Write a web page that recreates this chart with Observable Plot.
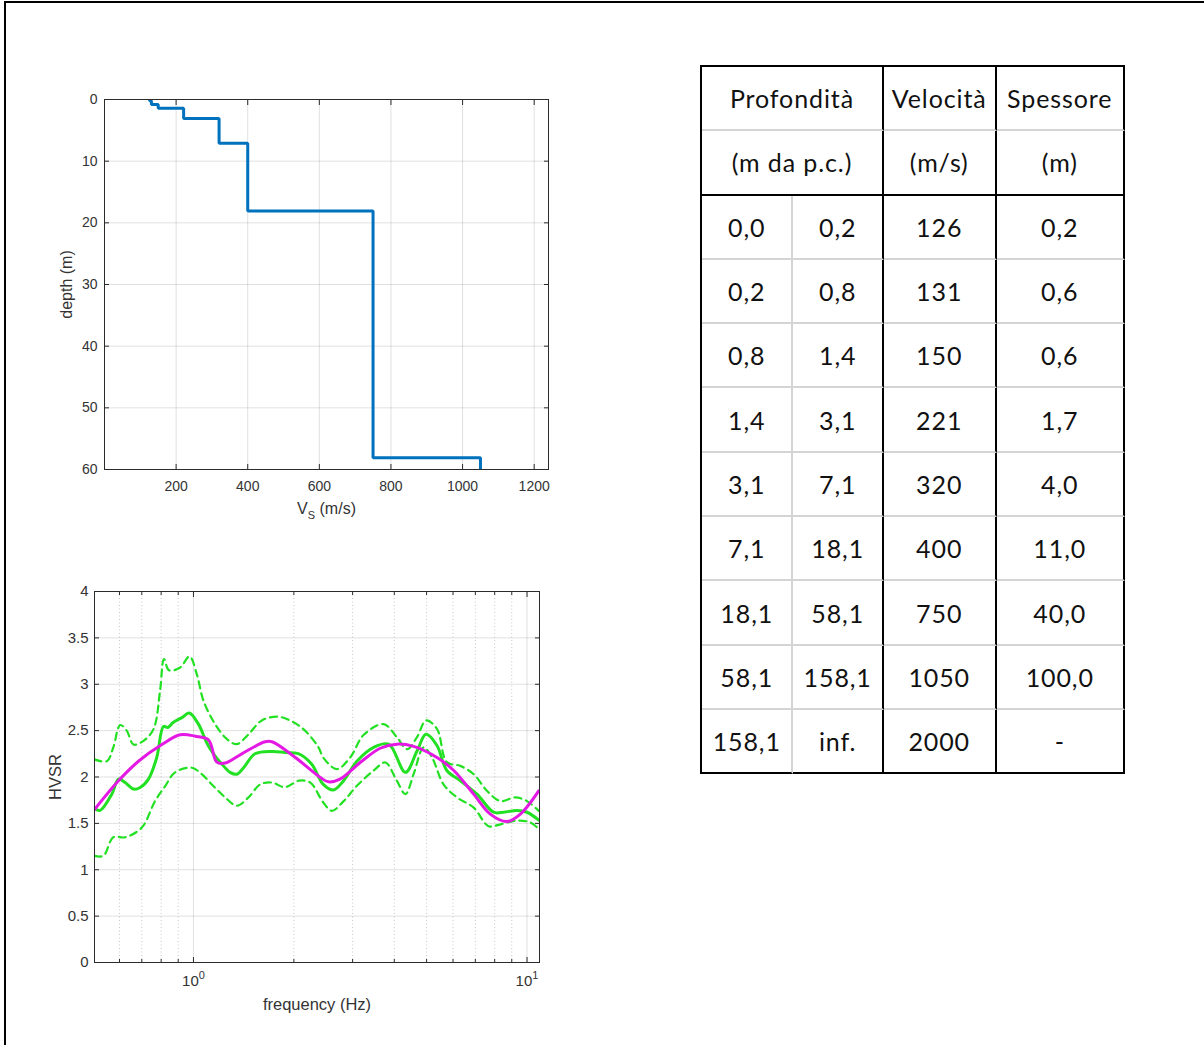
<!DOCTYPE html>
<html>
<head>
<meta charset="utf-8">
<script src="https://cdn.jsdelivr.net/npm/d3@7"></script>
<script src="https://cdn.jsdelivr.net/npm/@observablehq/plot@0.6"></script>
<style>
  html, body { margin: 0; padding: 0; background: #fff; overflow: hidden; }
  #page { position: relative; width: 1204px; height: 1045px; overflow: hidden; background: #fff; }
  #frame { position: absolute; left: 4px; top: 1px; width: 1400px; height: 1200px; border-left: 2px solid #000; border-top: 2px solid #000; }
  .chart { position: absolute; }
  #tbl { position: absolute; left: 700px; top: 65px; border-collapse: separate; border-spacing: 0;
         border-left: 2px solid #000; border-top: 2px solid #000; font-family: Lato, "Open Sans", sans-serif;
         font-size: 25px; color: #111; letter-spacing: 0.9px; }
  #tbl td { height: 64.3px; padding: 0; text-align: center; vertical-align: middle;
            border-right: 2px solid #d4d4d4; border-bottom: 2px solid #d4d4d4; box-sizing: border-box; }
  #tbl td.bR { border-right: 2px solid #000; }
  #tbl tr.bB td { border-bottom: 2px solid #000; }
  #tbl tr:last-child td { border-bottom: 2px solid #000; }
</style>
</head>
<body>
<div id="page"><div id="frame"></div></div>
<script>
// ---------- Vs profile ----------
const layerTop = [0, 0.2, 0.8, 1.4, 3.1, 7.1, 18.1, 58.1];
const layerBottom = [0.2, 0.8, 1.4, 3.1, 7.1, 18.1, 58.1, 158.1];
const layerVs = [126, 131, 150, 221, 320, 400, 750, 1050];
const vsTicks = [200, 400, 600, 800, 1000, 1200];
const depthTicks = [0, 10, 20, 30, 40, 50, 60];

// ---------- HVSR ----------
const magFreq = [0.505, 0.596, 0.684, 0.804, 0.912, 1.012, 1.109, 1.175, 1.245, 1.396, 1.64, 1.72, 2.02, 2.40, 2.54, 2.75, 3.16, 3.63, 4.07, 4.57, 5.37, 6.03, 6.92, 7.76, 8.71, 9.55, 10.84];
const magHvsr = [1.65, 1.96, 2.17, 2.35, 2.455, 2.44, 2.40, 2.16, 2.15, 2.25, 2.38, 2.38, 2.21, 1.995, 1.948, 1.977, 2.156, 2.31, 2.354, 2.33, 2.21, 2.07, 1.815, 1.60, 1.52, 1.60, 1.85];

const meanFreq = [0.505, 0.525, 0.569, 0.596, 0.624, 0.661, 0.692, 0.733, 0.776, 0.813, 0.838, 0.871, 0.923, 0.971, 1.035, 1.096, 1.148, 1.216, 1.288, 1.349, 1.413, 1.53, 1.72, 1.88, 2.07, 2.26, 2.45, 2.63, 2.82, 3.09, 3.47, 3.85, 4.32, 4.68, 4.98, 5.37, 5.75, 6.31, 7.08, 7.94, 8.51, 9.33, 10.0, 10.84];
const meanHvsr = [1.66, 1.64, 1.815, 1.977, 1.94, 1.87, 1.887, 1.977, 2.21, 2.545, 2.534, 2.59, 2.64, 2.69, 2.57, 2.37, 2.25, 2.14, 2.05, 2.03, 2.10, 2.25, 2.275, 2.264, 2.25, 2.14, 1.92, 1.86, 1.96, 2.17, 2.32, 2.354, 2.05, 2.28, 2.46, 2.34, 2.07, 1.96, 1.815, 1.62, 1.62, 1.64, 1.62, 1.535];

const upFreq = [0.505, 0.55, 0.575, 0.603, 0.631, 0.661, 0.708, 0.759, 0.794, 0.816, 0.845, 0.912, 0.973, 1.023, 1.072, 1.161, 1.259, 1.349, 1.462, 1.603, 1.80, 1.995, 2.16, 2.37, 2.45, 2.69, 2.95, 3.24, 3.72, 4.07, 4.37, 4.68, 4.98, 5.37, 5.75, 6.31, 6.92, 7.59, 8.32, 9.23, 10.0, 10.84];
const upHvsr = [2.19, 2.17, 2.32, 2.56, 2.50, 2.35, 2.39, 2.516, 2.93, 3.27, 3.15, 3.18, 3.30, 3.11, 2.82, 2.57, 2.41, 2.354, 2.46, 2.61, 2.65, 2.59, 2.50, 2.32, 2.21, 2.085, 2.21, 2.455, 2.57, 2.43, 2.30, 2.43, 2.61, 2.52, 2.16, 2.12, 2.03, 1.85, 1.74, 1.78, 1.74, 1.635];

const loFreq = [0.505, 0.537, 0.575, 0.624, 0.70, 0.767, 0.822, 0.881, 0.989, 1.059, 1.135, 1.245, 1.349, 1.462, 1.585, 1.72, 1.88, 2.07, 2.24, 2.45, 2.60, 2.82, 3.09, 3.47, 3.76, 4.07, 4.32, 4.57, 4.90, 5.19, 5.62, 6.17, 6.92, 7.67, 8.32, 9.33, 10.23, 10.84];
const loHvsr = [1.15, 1.15, 1.35, 1.35, 1.455, 1.74, 1.90, 2.05, 2.10, 2.03, 1.92, 1.78, 1.69, 1.78, 1.92, 1.94, 1.89, 1.96, 1.94, 1.725, 1.635, 1.74, 1.905, 2.07, 2.156, 1.96, 1.815, 2.03, 2.32, 2.21, 1.92, 1.78, 1.67, 1.47, 1.49, 1.53, 1.51, 1.44];

const hvsrTicks = [0, 0.5, 1, 1.5, 2, 2.5, 3, 3.5, 4];
const freqMajor = [1, 10];
const freqMinor = [0.6, 0.7, 0.8, 0.9, 2, 3, 4, 5, 6, 7, 8, 9];

// ---------- Table ----------
const headRow1 = ["Profondità", "Velocità", "Spessore"];
const headRow2 = ["(m da p.c.)", "(m/s)", "(m)"];
const profFrom = ["0,0", "0,2", "0,8", "1,4", "3,1", "7,1", "18,1", "58,1", "158,1"];
const profTo = ["0,2", "0,8", "1,4", "3,1", "7,1", "18,1", "58,1", "158,1", "inf."];
const velocity = ["126", "131", "150", "221", "320", "400", "750", "1050", "2000"];
const thickness = ["0,2", "0,6", "0,6", "1,7", "4,0", "11,0", "40,0", "100,0", "-"];

const page = document.getElementById("page");
const axisColor = "#2b2b2b";
const textColor = "#333";
const noText = () => "";

// ----- Chart 1: Vs profile -----
const profile = [];
layerVs.forEach((v, i) => { profile.push({v, d: layerTop[i]}); profile.push({v, d: layerBottom[i]}); });

const c1 = Plot.plot({
  width: 530, height: 460,
  marginLeft: 64, marginRight: 22, marginTop: 19, marginBottom: 71,
  style: {fontFamily: "'Liberation Sans', Arial, sans-serif", fontSize: "14px", color: textColor, background: "transparent", overflow: "visible"},
  x: {domain: [0, 1240]},
  y: {domain: [0, 60], reverse: true},
  marks: [
    Plot.gridX(vsTicks, {stroke: "#000", strokeOpacity: 0.12}),
    Plot.gridY(depthTicks, {stroke: "#000", strokeOpacity: 0.12}),
    Plot.line(profile, {x: "v", y: "d", stroke: "#0072BD", strokeWidth: 3, clip: true, strokeLinejoin: "miter"}),
    Plot.frame({stroke: axisColor, strokeWidth: 1}),
    Plot.axisX(vsTicks, {anchor: "bottom", tickSize: -5, text: null, tickFormat: noText, label: null, stroke: axisColor}),
    Plot.axisX(vsTicks, {anchor: "top", tickSize: -5, text: null, tickFormat: noText, label: null, stroke: axisColor}),
    Plot.axisY(depthTicks, {anchor: "left", tickSize: -5, text: null, tickFormat: noText, label: null, stroke: axisColor}),
    Plot.axisY(depthTicks, {anchor: "right", tickSize: -5, text: null, tickFormat: noText, label: null, stroke: axisColor}),
    Plot.axisX(vsTicks, {anchor: "bottom", tickSize: 0, tickPadding: 12, tickFormat: d => String(d), label: "VS (m/s)", labelAnchor: "center", labelOffset: 44, labelArrow: "none"}),
    Plot.axisY(depthTicks, {anchor: "left", tickSize: 0, tickPadding: 7, tickFormat: d => String(d), label: "depth (m)", labelAnchor: "center", labelOffset: 44, labelArrow: "none"})
  ]
});
c1.classList.add("chart");
c1.style.left = "40px"; c1.style.top = "80px";
page.appendChild(c1);

// ----- Chart 2: HVSR -----
const toRows = (fs, hs) => fs.map((f, i) => ({f, h: hs[i]}));
const c2 = Plot.plot({
  width: 540, height: 460,
  marginLeft: 74, marginRight: 21, marginTop: 21, marginBottom: 68,
  style: {fontFamily: "'Liberation Sans', Arial, sans-serif", fontSize: "15px", color: textColor, background: "transparent", overflow: "visible"},
  x: {type: "log", domain: [0.505, 10.9]},
  y: {domain: [0, 4]},
  marks: [
    Plot.gridY(hvsrTicks, {stroke: "#000", strokeOpacity: 0.12}),
    Plot.gridX(freqMajor, {stroke: "#000", strokeOpacity: 0.12}),
    Plot.gridX(freqMinor, {stroke: "#000", strokeOpacity: 0.22, strokeDasharray: "1,2.5"}),
    Plot.line(toRows(upFreq, upHvsr), {x: "f", y: "h", stroke: "#22e022", strokeWidth: 2.2, strokeDasharray: "7,5", curve: "catmull-rom", clip: true}),
    Plot.line(toRows(loFreq, loHvsr), {x: "f", y: "h", stroke: "#22e022", strokeWidth: 2.2, strokeDasharray: "7,5", curve: "catmull-rom", clip: true}),
    Plot.line(toRows(meanFreq, meanHvsr), {x: "f", y: "h", stroke: "#22e022", strokeWidth: 3, curve: "catmull-rom", clip: true}),
    Plot.line(toRows(magFreq, magHvsr), {x: "f", y: "h", stroke: "#e41ae4", strokeWidth: 3, curve: "catmull-rom", clip: true}),
    Plot.frame({stroke: axisColor, strokeWidth: 1}),
    Plot.axisX(freqMajor, {anchor: "bottom", tickSize: -5, text: null, tickFormat: noText, label: null, stroke: axisColor}),
    Plot.axisX(freqMajor, {anchor: "top", tickSize: -5, text: null, tickFormat: noText, label: null, stroke: axisColor}),
    Plot.axisX(freqMinor, {anchor: "bottom", tickSize: -3, text: null, tickFormat: noText, label: null, stroke: axisColor}),
    Plot.axisX(freqMinor, {anchor: "top", tickSize: -3, text: null, tickFormat: noText, label: null, stroke: axisColor}),
    Plot.axisY(hvsrTicks, {anchor: "left", tickSize: -5, text: null, tickFormat: noText, label: null, stroke: axisColor}),
    Plot.axisY(hvsrTicks, {anchor: "right", tickSize: -5, text: null, tickFormat: noText, label: null, stroke: axisColor}),
    Plot.axisX(freqMajor, {anchor: "bottom", tickSize: 0, tickPadding: 13, tickFormat: d => "10^" + Math.round(Math.log10(d)), label: "frequency (Hz)", labelAnchor: "center", labelOffset: 47, labelArrow: "none"}),
    Plot.axisY(hvsrTicks, {anchor: "left", tickSize: 0, tickPadding: 6, tickFormat: d => String(d), label: "HVSR", labelAnchor: "center", labelOffset: 45, labelArrow: "none"})
  ]
});
c2.classList.add("chart");
c2.style.left = "20px"; c2.style.top = "570px";
page.appendChild(c2);

// ----- text fix-ups (subscripts/superscripts, label sizes) -----
function fixLabel(svg, sel, html, size) {
  svg.querySelectorAll(`g[aria-label="${sel}"] text`).forEach(t => { t.innerHTML = html; t.setAttribute("font-size", size); });
}
fixLabel(c1, "x-axis label", 'V<tspan dy="5" font-size="11">S</tspan><tspan dy="-5"> (m/s)</tspan>', 16);
fixLabel(c1, "y-axis label", "depth (m)", 16);
fixLabel(c2, "x-axis label", "frequency (Hz)", 16.5);
fixLabel(c2, "y-axis label", "HVSR", 16.5);
c2.querySelectorAll('g[aria-label="x-axis tick label"] text').forEach(t => {
  if (!t.textContent.includes("^")) return;
  const [b, e] = t.textContent.split("^");
  t.innerHTML = `${b}<tspan dy="-7" font-size="11">${e}</tspan>`;
});

// ----- Table -----
const tbl = document.createElement("table");
tbl.id = "tbl";
const colW = [92, 91, 113, 129];
const cg = document.createElement("colgroup");
colW.forEach(w => { const c = document.createElement("col"); c.style.width = w + "px"; cg.appendChild(c); });
tbl.appendChild(cg);
function addRow(cells, cls) {
  const tr = document.createElement("tr");
  if (cls) tr.className = cls;
  cells.forEach(c => {
    const td = document.createElement("td");
    td.textContent = c.t;
    if (c.span) td.colSpan = c.span;
    if (c.b) td.className = "bR";
    tr.appendChild(td);
  });
  tbl.appendChild(tr);
}
addRow([{t: headRow1[0], span: 2, b: true}, {t: headRow1[1], b: true}, {t: headRow1[2], b: true}]);
addRow([{t: headRow2[0], span: 2, b: true}, {t: headRow2[1], b: true}, {t: headRow2[2], b: true}], "bB");
profFrom.forEach((p, i) => {
  addRow([{t: p}, {t: profTo[i], b: true}, {t: velocity[i], b: true}, {t: thickness[i], b: true}]);
});
tbl.style.width = colW.reduce((a, b) => a + b, 0) + "px";
page.appendChild(tbl);
</script>
</body>
</html>
